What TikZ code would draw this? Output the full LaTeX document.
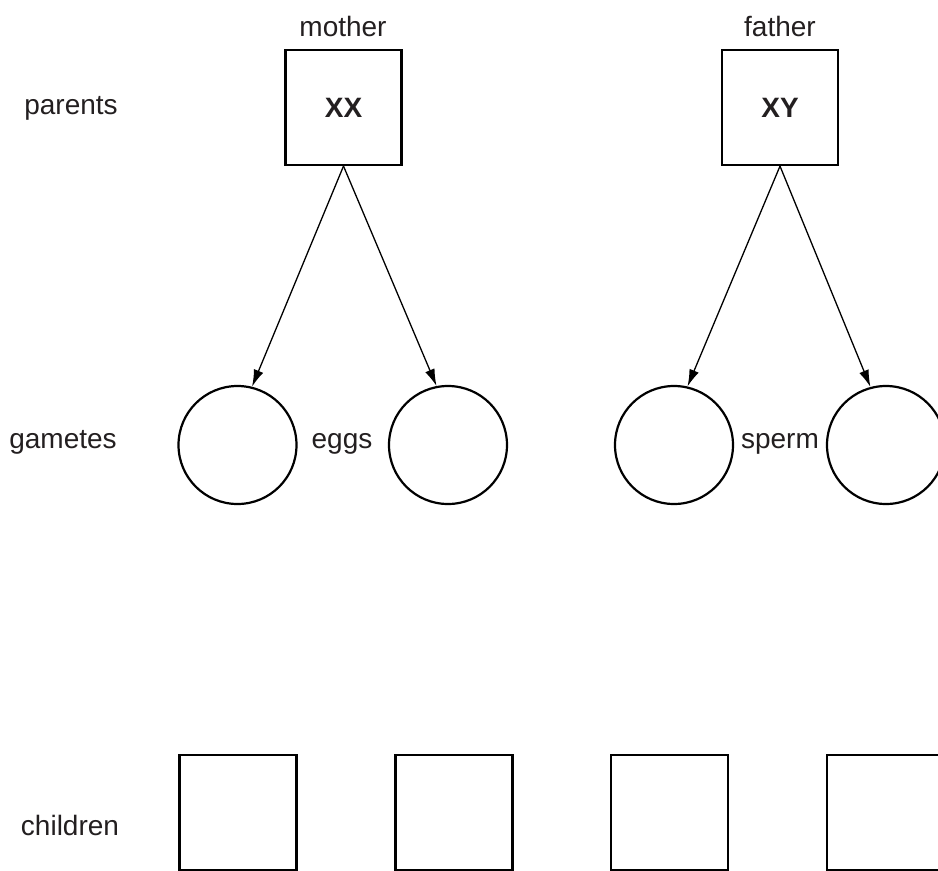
\documentclass[tikz,border=0pt]{standalone}
\usepackage{fontspec}
\setmainfont{Liberation Sans}
\usetikzlibrary{arrows.meta}
\definecolor{txt}{HTML}{231F20}
\begin{document}
\begin{tikzpicture}[x=1pt,y=-1pt,
  lbl/.style={font=\fontsize{28}{32}\selectfont,text=txt,inner sep=0pt},
  parentbox/.style={draw,line width=2.2pt,minimum width=116pt,minimum height=115pt,inner sep=0pt,font=\fontsize{28}{32}\selectfont\bfseries,text=txt},
  childbox/.style={draw,line width=2.2pt,minimum width=117pt,minimum height=115pt,inner sep=0pt},
  gamete/.style={draw,circle,line width=2.2pt,minimum size=118pt,inner sep=0pt},
  arr/.style={line width=1.3pt,-{Latex[length=17pt,width=10pt]}}]
\useasboundingbox (0,0) rectangle (938,871);
\clip (0,0) rectangle (938,871);
% row labels
\node[lbl] (lparents) at (71,108) {parents};
\node[lbl] (lgametes) at (63,442) {gametes};
\node[lbl] (lchildren) at (70,825) {children};
% parents
\node[parentbox] (mother) at (343.5,107.5) {XX};
\node[parentbox] (father) at (780,107.5) {XY};
\node[lbl] (tmother) at (343,26) {mother};
\node[lbl] (tfather) at (780,26) {father};
% gametes
\node[gamete] (e1) at (237.5,445) {};
\node[gamete] (e2) at (448,445) {};
\node[gamete] (s1) at (674,445) {};
\node[gamete] (s2) at (886,445) {};
\node[lbl] (teggs) at (342,444) {eggs};
\node[lbl] (tsperm) at (780,444) {sperm};
% arrows
\draw[arr] (mother.south) -- (e1.76);
\draw[arr] (mother.south) -- (e2.101);
\draw[arr] (father.south) -- (s1.77);
\draw[arr] (father.south) -- (s2.105);
% children
\node[childbox] (c1) at (238,812.5) {};
\node[childbox] (c2) at (454,812.5) {};
\node[childbox] (c3) at (669.5,812.5) {};
\node[childbox] (c4) at (885.5,812.5) {};
\end{tikzpicture}
\end{document}
